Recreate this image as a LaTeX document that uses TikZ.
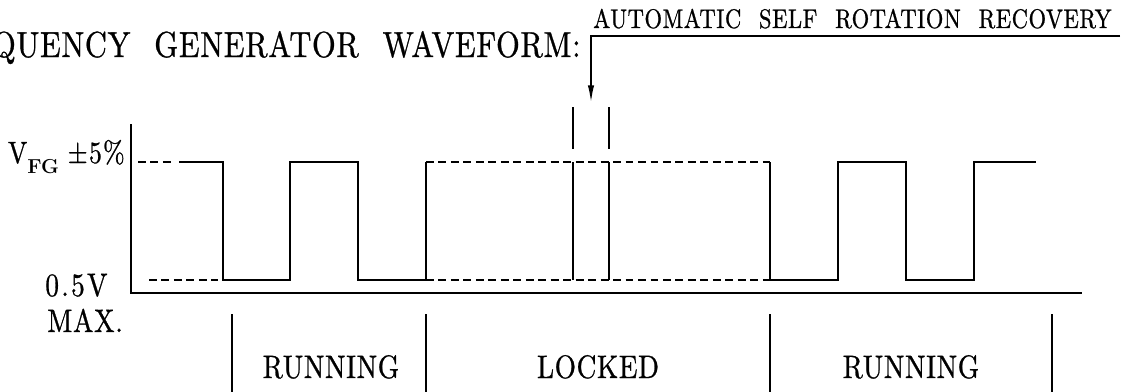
\documentclass[tikz,border=0pt]{standalone}
\usepackage{fontspec}
\usetikzlibrary{arrows.meta}

% drafting lettering: narrow roman, open word spacing
\newfontfamily\cadfamily{lmroman10-regular}[Extension=.otf, FakeStretch=0.84, FakeBold=0.8, WordSpace=2.2, LetterSpace=2]
\newcommand{\cadfont}[1]{\cadfamily\fontsize{#1}{#1}\selectfont}

\begin{document}
\begin{tikzpicture}[
  x=0.02cm, y=-0.02cm,
  >={Latex[length=10pt, width=3.6pt]},
  wave/.style={line width=1.1pt, line join=miter},
  guide/.style={line width=1.1pt, dash pattern=on 4.5pt off 2.6pt},
  titletext/.style={font=\cadfont{20.6}, inner sep=0pt},
  notetext/.style={font=\cadfont{15.3}, inner sep=0pt},
  leveltext/.style={font=\cadfont{18.5}, inner sep=0pt},
  statetext/.style={font=\cadfont{18.5}, inner sep=0pt}
]
% Page frame (title runs off the left edge)
\clip (0,0) rectangle (1134,392);

% Title
\node[titletext, anchor=base east] (title) at (581,57) {FREQUENCY GENERATOR WAVEFORM:};

% Recovery call-out
\node[notetext, anchor=base west] (asr) at (593,28) {AUTOMATIC SELF ROTATION RECOVERY};
\coordinate (asr-end) at (1120,36);
\coordinate (asr-bend) at (591,36);
\coordinate (asr-tip) at (591,103);
\draw[wave, ->] (asr-end) -- (asr-bend) -- (asr-tip);
\foreach \x in {573,609} {
  \draw[wave] (\x,107) -- (\x,149);
}

% Axes
\draw[wave] (131,124) -- (131,293) -- (1082,293);

% Level labels
\node[leveltext, anchor=base east, font=\cadfont{17.5}] (vfg) at (125,163)
  {V\raisebox{-0.35em}{\rmfamily\bfseries\fontsize{11.5}{11.5}\selectfont FG}\hspace{5pt}\addfontfeatures{LetterSpace=4}±5\%};
\node[leveltext, anchor=base west] (low) at (45,296) {\addfontfeatures{LetterSpace=7}0.5V};
\node[leveltext, anchor=base west] (max) at (47,332) {MAX.};

% Level guides (dashed)
\draw[guide] (138,162) -- (175,162);
\draw[guide] (149,280) -- (218,280);
\draw[guide] (426,162) -- (770,162);
\draw[guide] (426,280) -- (770,280);

% Waveform: running
\draw[wave] (179,162) -- (223,162) -- (223,280) -- (290,280) -- (290,162)
  -- (358,162) -- (358,280) -- (426,280) -- (426,162);
% Waveform: locked
\foreach \x in {573,609} {
  \draw[wave] (\x,162) -- (\x,280);
}
% Waveform: running again
\draw[wave] (770,162) -- (770,280) -- (838,280) -- (838,162) -- (906,162)
  -- (906,280) -- (974,280) -- (974,162) -- (1036,162);

% State bands
\foreach \x in {232,426,770,1052} {
  \draw[wave] (\x,314) -- (\x,392);
}
\node[statetext, anchor=base] (run-a) at (331,378) {RUNNING};
\node[statetext, anchor=base] (locked) at (598,378) {LOCKED};
\node[statetext, anchor=base] (run-b) at (911,378) {RUNNING};

\end{tikzpicture}
\end{document}
